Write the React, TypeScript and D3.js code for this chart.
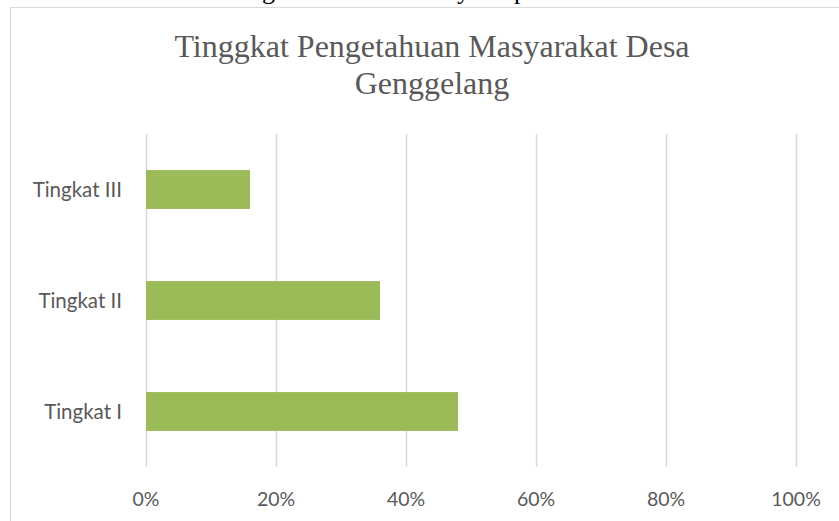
import React from "react";
import * as d3 from "d3";

const categories = ["Tingkat III", "Tingkat II", "Tingkat I"];
const values = [0.16, 0.36, 0.48];
const ticks = [0, 0.2, 0.4, 0.6, 0.8, 1.0];
const titleLines = ["Tinggkat Pengetahuan Masyarakat Desa", "Genggelang"];
const topFragment = [
  { ch: "g", x: 262 },
  { ch: "y", x: 457 },
  { ch: "p", x: 514 },
];

const W = 839;
const H = 521;

export default function App() {
  const x = d3.scaleLinear().domain([0, 1]).range([146, 796]);
  const y = d3
    .scaleBand<string>()
    .domain(categories)
    .range([134, 467])
    .paddingInner(0.65)
    .paddingOuter(0.325);
  const fmt = d3.format(".0%");
  const labelFont = "Lato, 'Open Sans', sans-serif";

  return (
    <svg
      width={W}
      height={H}
      style={{ position: "absolute", left: 0, top: 0, background: "#fff" }}
    >
      <defs>
        <clipPath id="topclip">
          <rect x={0} y={0} width={W} height={7} />
        </clipPath>
      </defs>
      <g clipPath="url(#topclip)">
        {topFragment.map((d, i) => (
          <text
            key={i}
            x={d.x}
            y={-1}
            fontFamily="'Liberation Serif', serif"
            fontSize={26}
            fill="#000"
          >
            {d.ch}
          </text>
        ))}
      </g>
      <rect
        x={10.5}
        y={7.5}
        width={W + 20}
        height={H + 20}
        fill="#fff"
        stroke="#d9d9d9"
        strokeWidth={1}
      />
      {titleLines.map((t, i) => (
        <text
          key={i}
          x={432}
          y={57 + i * 37}
          textAnchor="middle"
          fontFamily="'Liberation Serif', 'Times New Roman', serif"
          fontSize={32}
          fill="#595959"
        >
          {t}
        </text>
      ))}
      {ticks.map((t) => (
        <line
          key={"g" + t}
          x1={Math.round(x(t)) + 0.5}
          x2={Math.round(x(t)) + 0.5}
          y1={134}
          y2={467}
          stroke="#d9d9d9"
          strokeWidth={1.5}
        />
      ))}
      {categories.map((c, i) => (
        <rect
          key={c}
          x={x(0)}
          y={y(c)!}
          width={x(values[i]) - x(0)}
          height={y.bandwidth()}
          fill="#9bbb59"
        />
      ))}
      {categories.map((c) => (
        <text
          key={"l" + c}
          x={122}
          y={y(c)! + y.bandwidth() / 2}
          dy="0.35em"
          textAnchor="end"
          fontFamily={labelFont}
          fontSize={20.5}
          fill="#595959"
        >
          {c}
        </text>
      ))}
      {ticks.map((t) => (
        <text
          key={"t" + t}
          x={x(t)}
          y={506}
          textAnchor="middle"
          fontFamily={labelFont}
          fontSize={19.5}
          fill="#595959"
        >
          {fmt(t)}
        </text>
      ))}
    </svg>
  );
}
